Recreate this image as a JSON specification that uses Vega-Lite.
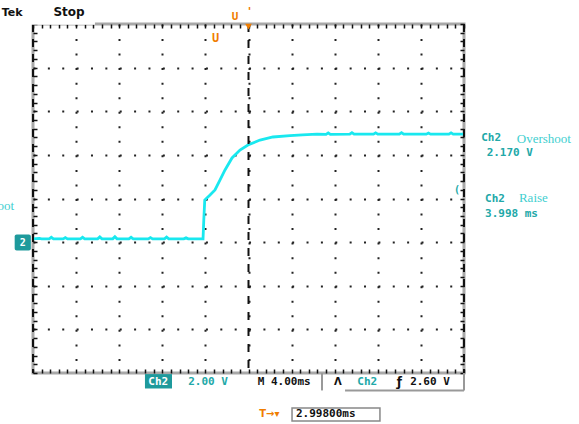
{
  "$schema": "https://vega.github.io/schema/vega-lite/v6.json",
  "autosize": {"type": "none"},
  "width": 431,
  "height": 349,
  "padding": {"left": 33, "top": 24, "right": 115, "bottom": 51},
  "background": "white",
  "config": {
    "view": {"stroke": "#a8a8a8", "strokeWidth": 3},
    "text": {"baseline": "middle"}
  },
  "resolve": {"axis": {"x": "independent", "y": "independent"}},
  "layer": [
    {
      "data": {"values": [
        {"t": -20, "v": 0.15}, {"t": -19.4, "v": 0.17}, {"t": -19.2, "v": 0.15}, {"t": -18.5, "v": 0.15},
        {"t": -18.3, "v": 0.22}, {"t": -18.1, "v": 0.15}, {"t": -17.2, "v": 0.15}, {"t": -17.0, "v": 0.21},
        {"t": -16.8, "v": 0.15}, {"t": -15.6, "v": 0.15}, {"t": -15.4, "v": 0.22}, {"t": -15.2, "v": 0.15},
        {"t": -14.0, "v": 0.15}, {"t": -13.8, "v": 0.24}, {"t": -13.6, "v": 0.15}, {"t": -12.6, "v": 0.15},
        {"t": -12.4, "v": 0.25}, {"t": -12.2, "v": 0.15}, {"t": -11.1, "v": 0.15}, {"t": -10.9, "v": 0.22},
        {"t": -10.7, "v": 0.15}, {"t": -9.3, "v": 0.15}, {"t": -9.1, "v": 0.21}, {"t": -8.9, "v": 0.15},
        {"t": -7.8, "v": 0.15}, {"t": -7.6, "v": 0.23}, {"t": -7.4, "v": 0.15}, {"t": -6.0, "v": 0.15},
        {"t": -5.8, "v": 0.2}, {"t": -5.6, "v": 0.15}, {"t": -4.22, "v": 0.15}, {"t": -4.15, "v": 1.0},
        {"t": -4.06, "v": 1.93}, {"t": -3.57, "v": 2.16}, {"t": -3.11, "v": 2.39}, {"t": -2.64, "v": 2.85},
        {"t": -2.18, "v": 3.31}, {"t": -1.53, "v": 3.86}, {"t": -0.79, "v": 4.22}, {"t": -0.05, "v": 4.45},
        {"t": 1.07, "v": 4.68}, {"t": 2.27, "v": 4.82}, {"t": 3.85, "v": 4.88}, {"t": 5.0, "v": 4.92},
        {"t": 6.36, "v": 4.95}, {"t": 7.2, "v": 4.94}, {"t": 7.4, "v": 5.01}, {"t": 7.6, "v": 4.94},
        {"t": 9.4, "v": 4.95}, {"t": 9.6, "v": 5.02}, {"t": 9.8, "v": 4.95}, {"t": 11.6, "v": 4.95},
        {"t": 11.8, "v": 5.01}, {"t": 12.0, "v": 4.95}, {"t": 14.0, "v": 4.95}, {"t": 14.2, "v": 5.02},
        {"t": 14.4, "v": 4.95}, {"t": 16.5, "v": 4.95}, {"t": 16.7, "v": 5.0}, {"t": 16.9, "v": 4.95},
        {"t": 18.6, "v": 4.95}, {"t": 18.8, "v": 5.01}, {"t": 19.0, "v": 4.95}, {"t": 20, "v": 4.95}
      ]},
      "mark": {"type": "line", "color": "#19e8ef", "strokeWidth": 2.8},
      "encoding": {
        "x": {
          "field": "t", "type": "quantitative",
          "scale": {"domain": [-20, 20], "nice": false, "zero": false},
          "axis": {
            "orient": "bottom", "title": null, "labels": false, "ticks": false, "domain": false,
            "values": [-16, -12, -8, -4, 0, 4, 8, 12, 16],
            "grid": true, "gridColor": "#222222", "gridOpacity": 1, "gridWidth": 2, "gridDash": [2, 12.54]
          }
        },
        "y": {
          "field": "v", "type": "quantitative",
          "scale": {"domain": [-6, 10], "nice": false, "zero": false},
          "axis": {
            "orient": "left", "title": null, "labels": false, "ticks": false, "domain": false,
            "values": [-4, -2, 0, 2, 4, 6, 8],
            "grid": true, "gridColor": "#222222", "gridOpacity": 1, "gridWidth": 2, "gridDash": [2, 12.37]
          }
        }
      }
    },
    {
      "data": {"values": [{}]},
      "mark": {"type": "rule", "color": "#111111", "strokeWidth": 2, "strokeDash": [8, 8]},
      "encoding": {"x": {"datum": 0, "axis": {
        "orient": "top", "title": null, "labels": false, "ticks": false, "domain": false,
        "values": [-20, -19.2, -18.4, -17.6, -16.8, -16, -15.2, -14.4, -13.6, -12.8, -12, -11.2, -10.4, -9.6, -8.8, -8, -7.2, -6.4, -5.6, -4.8, -4, -3.2, -2.4, -1.6, -0.8, 0, 0.8, 1.6, 2.4, 3.2, 4, 4.8, 5.6, 6.4, 7.2, 8, 8.8, 9.6, 10.4, 11.2, 12, 12.8, 13.6, 14.4, 15.2, 16, 16.8, 17.6, 18.4, 19.2, 20],
        "grid": true, "gridColor": "#111111", "gridOpacity": 1, "gridWidth": 1.5, "gridDash": [4, 341, 4]
      }}}
    },
    {
      "data": {"values": [{}]},
      "mark": {"type": "rect", "fill": "#1e9a9c", "cornerRadius": 2},
      "encoding": {
        "x": {"datum": -21.7, "axis": null}, "x2": {"datum": -20.2},
        "y": {"datum": 0.35, "axis": {
          "orient": "right", "title": null, "labels": false, "ticks": false, "domain": false,
          "values": [-6, -5.6, -5.2, -4.8, -4.4, -4, -3.6, -3.2, -2.8, -2.4, -2, -1.6, -1.2, -0.8, -0.4, 0, 0.4, 0.8, 1.2, 1.6, 2, 2.4, 2.8, 3.2, 3.6, 4, 4.4, 4.8, 5.2, 5.6, 6, 6.4, 6.8, 7.2, 7.6, 8, 8.4, 8.8, 9.2, 9.6, 10],
          "grid": true, "gridColor": "#111111", "gridOpacity": 1, "gridWidth": 1.5, "gridDash": [4, 423, 4]
        }},
        "y2": {"datum": -0.38}
      }
    },
    {
      "data": {"values": [{}]},
      "mark": {"type": "rule", "color": "#111111", "strokeWidth": 2, "strokeDash": [8, 7]},
      "encoding": {"x": {"datum": -20, "axis": null}}
    },
    {
      "data": {"values": [{}]},
      "mark": {"type": "rule", "color": "#111111", "strokeWidth": 2, "strokeDash": [8, 7]},
      "encoding": {"x": {"datum": 20, "axis": null}}
    },
    {
      "data": {"values": [{}]},
      "mark": {"type": "rect", "fill": "white"},
      "encoding": {"x": {"datum": -21.5, "axis": null}, "x2": {"datum": -14.25}, "y": {"datum": 11.2, "axis": null}, "y2": {"datum": 9.97}}
    },
    {
      "data": {"values": [{}]},
      "mark": {"type": "text", "text": "Tek", "align": "left", "font": "DejaVu Sans", "fontWeight": "bold", "fontSize": 11, "color": "#111111"},
      "encoding": {"x": {"datum": -22.9, "axis": null}, "y": {"datum": 10.5, "axis": null}}
    },
    {
      "data": {"values": [{}]},
      "mark": {"type": "text", "text": "Stop", "align": "left", "font": "DejaVu Sans", "fontWeight": "bold", "fontSize": 12, "color": "#111111"},
      "encoding": {"x": {"datum": -18.1, "axis": null}, "y": {"datum": 10.55, "axis": null}}
    },
    {
      "data": {"values": [{}]},
      "mark": {"type": "text", "text": "U", "align": "center", "font": "DejaVu Sans Mono", "fontWeight": "bold", "fontSize": 11, "color": "#f07d00"},
      "encoding": {"x": {"datum": -1.25, "axis": null}, "y": {"datum": 10.3, "axis": null}}
    },
    {
      "data": {"values": [{}]},
      "mark": {"type": "text", "text": "U", "align": "center", "font": "DejaVu Sans Mono", "fontWeight": "bold", "fontSize": 12, "color": "#f07d00"},
      "encoding": {"x": {"datum": -3.05, "axis": null}, "y": {"datum": 9.35, "axis": null}}
    },
    {
      "data": {"values": [{}]},
      "mark": {"type": "text", "text": "'", "align": "center", "font": "DejaVu Sans Mono", "fontWeight": "bold", "fontSize": 11, "color": "#f07d00"},
      "encoding": {"x": {"datum": 0.1, "axis": null}, "y": {"datum": 10.55, "axis": null}}
    },
    {
      "data": {"values": [{}]},
      "mark": {"type": "point", "shape": "triangle-down", "filled": true, "size": 45, "color": "#f07d00", "opacity": 1},
      "encoding": {"x": {"datum": 0, "axis": null}, "y": {"datum": 9.88, "axis": null}}
    },
    {
      "data": {"values": [{}]},
      "mark": {"type": "text", "text": "2", "align": "center", "font": "DejaVu Sans Mono", "fontWeight": "bold", "fontSize": 10, "color": "white"},
      "encoding": {"x": {"datum": -20.95, "axis": null}, "y": {"datum": -0.02, "axis": null}}
    },
    {
      "data": {"values": [{}]},
      "mark": {"type": "text", "text": "Overshoot", "align": "right", "font": "Liberation Serif", "fontSize": 13, "color": "#3fcfd0"},
      "encoding": {"x": {"datum": -21.75, "axis": null}, "y": {"datum": 1.66, "axis": null}}
    },
    {
      "data": {"values": [{}]},
      "mark": {"type": "text", "text": "(", "align": "center", "font": "DejaVu Sans Mono", "fontWeight": "bold", "fontSize": 10, "color": "#22a8a8"},
      "encoding": {"x": {"datum": 19.35, "axis": null}, "y": {"datum": 2.39, "axis": null}}
    },
    {
      "data": {"values": [{}]},
      "mark": {"type": "text", "text": "Ch2", "align": "left", "font": "DejaVu Sans Mono", "fontWeight": "bold", "fontSize": 11, "color": "#22a8a8"},
      "encoding": {"x": {"datum": 21.6, "axis": null}, "y": {"datum": 4.77, "axis": null}}
    },
    {
      "data": {"values": [{}]},
      "mark": {"type": "text", "text": "Overshoot", "align": "left", "font": "Liberation Serif", "fontSize": 13, "color": "#3fcfd0"},
      "encoding": {"x": {"datum": 24.9, "axis": null}, "y": {"datum": 4.75, "axis": null}}
    },
    {
      "data": {"values": [{}]},
      "mark": {"type": "text", "text": "2.170 V", "align": "left", "font": "DejaVu Sans Mono", "fontWeight": "bold", "fontSize": 11, "color": "#22a8a8"},
      "encoding": {"x": {"datum": 22.1, "axis": null}, "y": {"datum": 4.09, "axis": null}}
    },
    {
      "data": {"values": [{}]},
      "mark": {"type": "text", "text": "Ch2", "align": "left", "font": "DejaVu Sans Mono", "fontWeight": "bold", "fontSize": 11, "color": "#22a8a8"},
      "encoding": {"x": {"datum": 21.95, "axis": null}, "y": {"datum": 1.98, "axis": null}}
    },
    {
      "data": {"values": [{}]},
      "mark": {"type": "text", "text": "Raise", "align": "left", "font": "Liberation Serif", "fontSize": 13, "color": "#3fcfd0"},
      "encoding": {"x": {"datum": 25.1, "axis": null}, "y": {"datum": 2.02, "axis": null}}
    },
    {
      "data": {"values": [{}]},
      "mark": {"type": "text", "text": "3.998 ms", "align": "left", "font": "DejaVu Sans Mono", "fontWeight": "bold", "fontSize": 11, "color": "#22a8a8"},
      "encoding": {"x": {"datum": 21.95, "axis": null}, "y": {"datum": 1.29, "axis": null}}
    },
    {
      "data": {"values": [{}]},
      "mark": {"type": "rect", "fill": "#1e9a9c"},
      "encoding": {"x": {"datum": -9.61, "axis": null}, "x2": {"datum": -7.1}, "y": {"datum": -6.05, "axis": null}, "y2": {"datum": -6.71}}
    },
    {
      "data": {"values": [{}]},
      "mark": {"type": "text", "text": "Ch2", "align": "center", "font": "DejaVu Sans Mono", "fontWeight": "bold", "fontSize": 11, "color": "white"},
      "encoding": {"x": {"datum": -8.38, "axis": null}, "y": {"datum": -6.4, "axis": null}}
    },
    {
      "data": {"values": [{}]},
      "mark": {"type": "text", "text": "2.00 V", "align": "left", "font": "DejaVu Sans Mono", "fontWeight": "bold", "fontSize": 11, "color": "#22a8a8"},
      "encoding": {"x": {"datum": -5.6, "axis": null}, "y": {"datum": -6.4, "axis": null}}
    },
    {
      "data": {"values": [{}]},
      "mark": {"type": "text", "text": "M 4.00ms", "align": "left", "font": "DejaVu Sans Mono", "fontWeight": "bold", "fontSize": 11, "color": "#111111"},
      "encoding": {"x": {"datum": 0.85, "axis": null}, "y": {"datum": -6.4, "axis": null}}
    },
    {
      "data": {"values": [{}]},
      "mark": {"type": "rule", "color": "#999999", "strokeWidth": 2},
      "encoding": {"x": {"datum": 6.82, "axis": null}, "y": {"datum": -6.0, "axis": null}, "y2": {"datum": -6.8}}
    },
    {
      "data": {"values": [{}]},
      "mark": {"type": "rule", "color": "#999999", "strokeWidth": 2},
      "encoding": {"x": {"datum": 8.96, "axis": null}, "x2": {"datum": 20.0}, "y": {"datum": -6.8, "axis": null}}
    },
    {
      "data": {"values": [{}]},
      "mark": {"type": "rule", "color": "#999999", "strokeWidth": 2},
      "encoding": {"x": {"datum": 20.0, "axis": null}, "y": {"datum": -6.0, "axis": null}, "y2": {"datum": -6.8}}
    },
    {
      "data": {"values": [{}]},
      "mark": {"type": "text", "text": "Λ", "align": "center", "font": "DejaVu Sans", "fontWeight": "bold", "fontSize": 10, "color": "#111111"},
      "encoding": {"x": {"datum": 8.3, "axis": null}, "y": {"datum": -6.4, "axis": null}}
    },
    {
      "data": {"values": [{}]},
      "mark": {"type": "text", "text": "Ch2", "align": "left", "font": "DejaVu Sans Mono", "fontWeight": "bold", "fontSize": 11, "color": "#22a8a8"},
      "encoding": {"x": {"datum": 10.1, "axis": null}, "y": {"datum": -6.4, "axis": null}}
    },
    {
      "data": {"values": [{}]},
      "mark": {"type": "text", "text": "ƒ", "align": "center", "font": "DejaVu Sans", "fontWeight": "bold", "fontSize": 12, "color": "#111111"},
      "encoding": {"x": {"datum": 14.0, "axis": null}, "y": {"datum": -6.4, "axis": null}}
    },
    {
      "data": {"values": [{}]},
      "mark": {"type": "text", "text": "2.60 V", "align": "left", "font": "DejaVu Sans Mono", "fontWeight": "bold", "fontSize": 11, "color": "#111111"},
      "encoding": {"x": {"datum": 15.0, "axis": null}, "y": {"datum": -6.4, "axis": null}}
    },
    {
      "data": {"values": [{}]},
      "mark": {"type": "text", "text": "T→▾", "align": "left", "font": "DejaVu Sans", "fontWeight": "bold", "fontSize": 10, "color": "#f07d00"},
      "encoding": {"x": {"datum": 1.0, "axis": null}, "y": {"datum": -7.9, "axis": null}}
    },
    {
      "data": {"values": [{}]},
      "mark": {"type": "rect", "fill": "white", "stroke": "#888888", "strokeWidth": 1.5},
      "encoding": {"x": {"datum": 4.04, "axis": null}, "x2": {"datum": 12.2}, "y": {"datum": -7.6, "axis": null}, "y2": {"datum": -8.2}}
    },
    {
      "data": {"values": [{}]},
      "mark": {"type": "text", "text": "2.99800ms", "align": "left", "font": "DejaVu Sans Mono", "fontWeight": "bold", "fontSize": 11, "color": "#111111"},
      "encoding": {"x": {"datum": 4.4, "axis": null}, "y": {"datum": -7.9, "axis": null}}
    }
  ]
}
